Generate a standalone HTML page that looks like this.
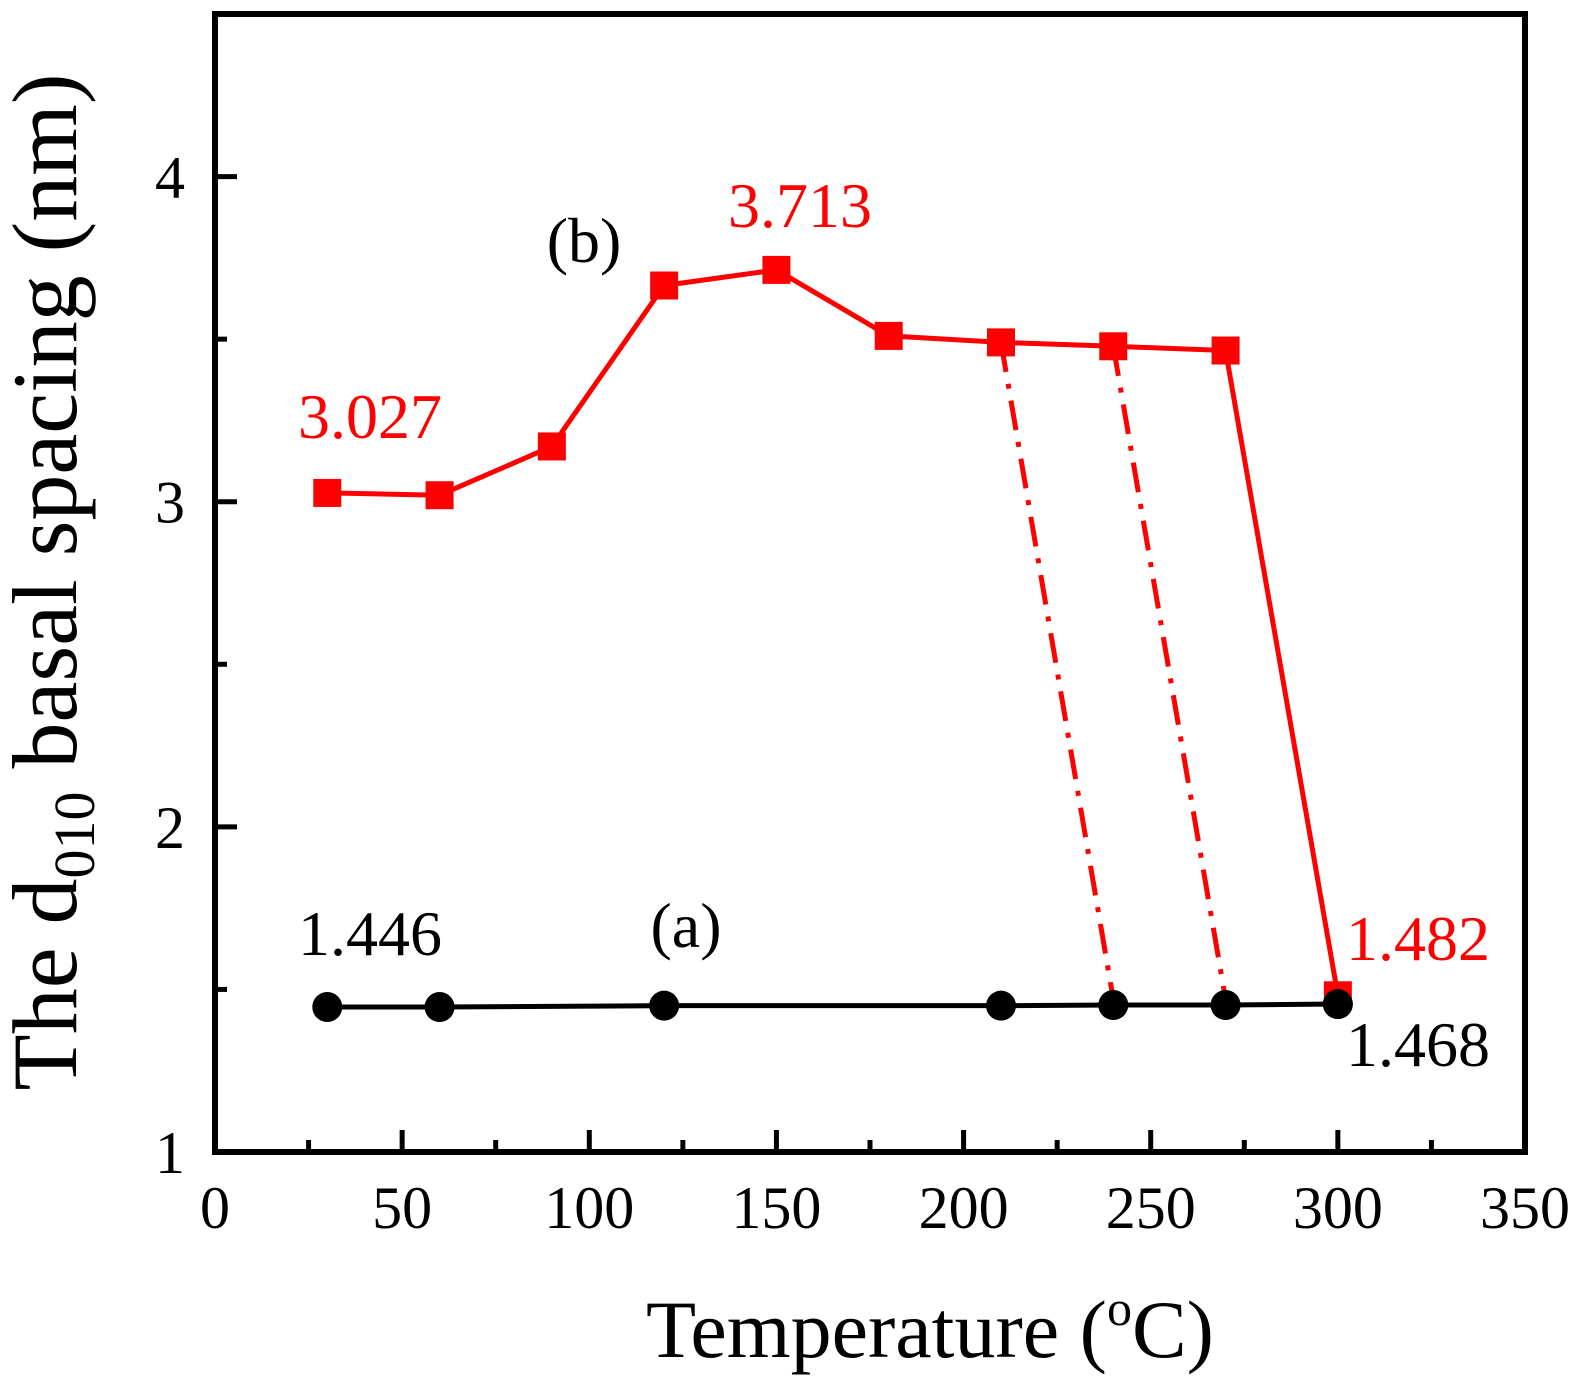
<!DOCTYPE html>
<html><head><meta charset="utf-8"><style>
html,body{margin:0;padding:0;background:#fff;}
svg{display:block;font-family:"Liberation Serif",serif;}
</style></head><body>
<svg id="chart" width="1584" height="1386" viewBox="0 0 1584 1386">
<g id="axes"></g>
<g id="series"></g>
<g id="labels">
<text x="370" y="438" font-size="64" fill="#f00" text-anchor="middle">3.027</text>
<text x="800" y="227" font-size="64" fill="#f00" text-anchor="middle">3.713</text>
<text x="584" y="262" font-size="64" fill="#000" text-anchor="middle">(b)</text>
<text x="686" y="947" font-size="64" fill="#000" text-anchor="middle">(a)</text>
<text x="370" y="955" font-size="64" fill="#000" text-anchor="middle">1.446</text>
<text x="1418" y="960" font-size="64" fill="#f00" text-anchor="middle">1.482</text>
<text x="1418" y="1066" font-size="64" fill="#000" text-anchor="middle">1.468</text>
<text x="930" y="1357" font-size="82" text-anchor="middle">Temperature (<tspan font-size="50" dy="-32">o</tspan><tspan dy="32">C)</tspan></text>
<text transform="translate(76,582) rotate(-90)" font-size="92" text-anchor="middle">The d<tspan font-size="58" dy="18">010</tspan><tspan dy="-18"> basal spacing (nm)</tspan></text>
</g>
</svg>
<script>
const xTicks = [0,50,100,150,200,250,300,350];
const yTicks = [1,2,3,4];
const redX = [30,60,90,120,150,180,210,240,270,300];
const redY = [3.027,3.02,3.17,3.665,3.713,3.51,3.49,3.478,3.465,1.482];
const blackX = [30,60,120,210,240,270,300];
const blackY = [1.446,1.446,1.45,1.45,1.452,1.452,1.455];
const dashFromX = [210,240];
const dashFromY = [3.49,3.478];
const dashToX = [240,270];
const dashToY = [1.47,1.47];

const X0=215, X1=1525, Y0=1152, Y1=14;
const xMin=0,xMax=350,yMin=1,yMax=4.5;
function sx(v){return X0+(v-xMin)/(xMax-xMin)*(X1-X0);}
function sy(v){return Y0-(v-yMin)/(yMax-yMin)*(Y0-Y1);}
const NS="http://www.w3.org/2000/svg";
function mk(tag,attrs,parent){const e=document.createElementNS(NS,tag);for(const k in attrs)e.setAttribute(k,attrs[k]);parent.appendChild(e);return e;}
const axes=document.getElementById('axes'), ser=document.getElementById('series');

let fr=mk('rect',{x:X0,y:Y1,width:X1-X0,height:Y0-Y1,fill:'none',stroke:'#000','stroke-width':6},axes);



xTicks.forEach((t,i)=>{
  let l=mk('line',{x1:sx(t),x2:sx(t),y1:Y0,y2:Y0-22,stroke:'#000','stroke-width':5},axes);
  
  
  let tx=mk('text',{x:sx(t),y:Y0+76,'font-size':60,'text-anchor':'middle'},axes);
  tx.textContent=t;
  
  
  if(i<xTicks.length-1){
    const m=(t+xTicks[i+1])/2;
    let ml=mk('line',{x1:sx(m),x2:sx(m),y1:Y0,y2:Y0-12,stroke:'#000','stroke-width':5},axes);
    
    
  }
});
yTicks.forEach((t,i)=>{
  let l=mk('line',{x1:X0,x2:X0+22,y1:sy(t),y2:sy(t),stroke:'#000','stroke-width':5},axes);
  
  
  let tx=mk('text',{x:X0-30,y:sy(t)+21,'font-size':60,'text-anchor':'end'},axes);
  tx.textContent=t;
  
  
  const m=t+0.5;
  let ml=mk('line',{x1:X0,x2:X0+12,y1:sy(m),y2:sy(m),stroke:'#000','stroke-width':5},axes);
  
  
});

dashFromX.forEach((v,i)=>{
  let l=mk('line',{x1:sx(v),y1:sy(dashFromY[i]),x2:sx(dashToX[i]),y2:sy(dashToY[i]),stroke:'#f00','stroke-width':5,'stroke-dasharray':'30 12 5 12'},ser);
  
  
});
let bp=mk('polyline',{points:blackX.map((v,i)=>sx(v)+','+sy(blackY[i])).join(' '),fill:'none',stroke:'#000','stroke-width':5},ser);


blackX.forEach((v,i)=>{
  let c=mk('circle',{cx:sx(v),cy:sy(blackY[i]),r:15,fill:'#000'},ser);
  
  
});
let rp=mk('polyline',{points:redX.map((v,i)=>sx(v)+','+sy(redY[i])).join(' '),fill:'none',stroke:'#f00','stroke-width':5},ser);


redX.forEach((v,i)=>{
  let r=mk('rect',{x:sx(v)-14,y:sy(redY[i])-14,width:28,height:28,fill:'#f00'},ser);
  
  
});
let lc=mk('circle',{cx:sx(blackX[blackX.length-1]),cy:sy(blackY[blackY.length-1]),r:15,fill:'#000'},ser);


</script>
</body></html>
